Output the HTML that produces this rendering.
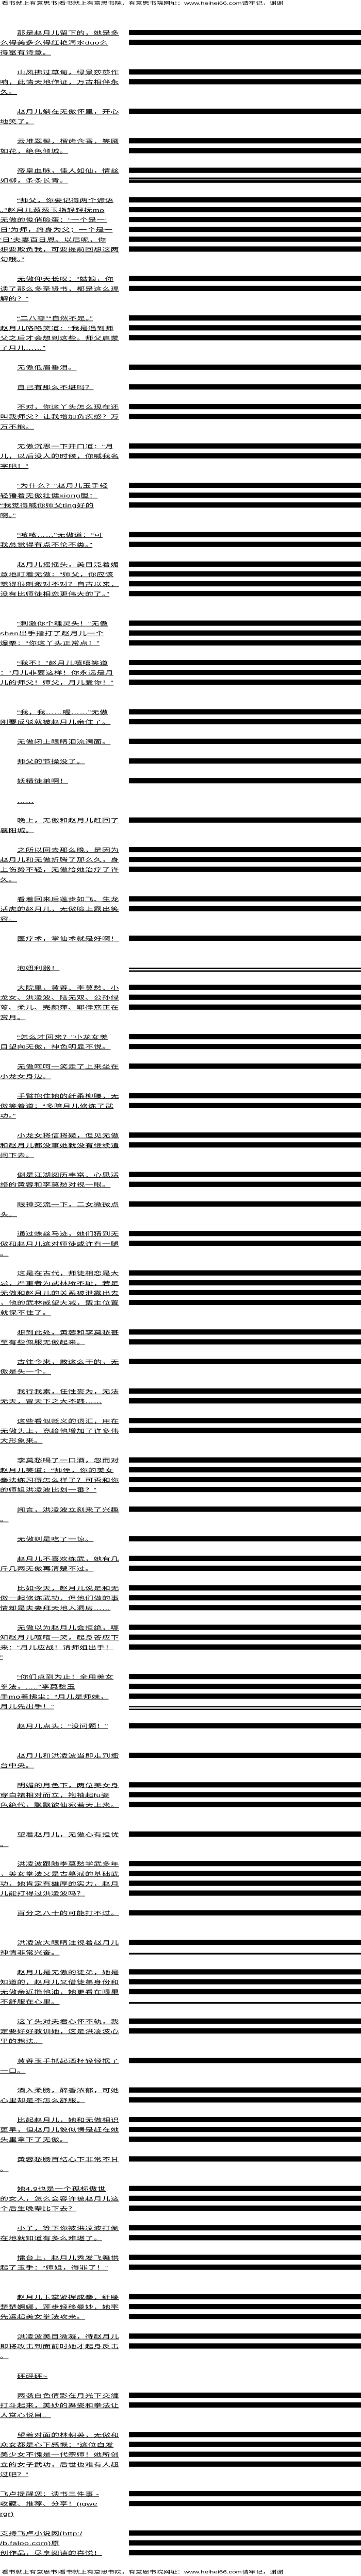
<!DOCTYPE html>
<html><head><meta charset="utf-8">
<style>
html,body{margin:0;padding:0;background:#fff;overflow:hidden}
svg{display:block;width:100vw;height:100vh}
text{font-family:"Liberation Sans","Noto Sans CJK SC",sans-serif;font-size:16px;letter-spacing:0.5px;text-decoration:underline;fill:#000}
text.h{font-size:13.6px;letter-spacing:-0.1px;text-decoration:none}
</style></head><body>
<svg xmlns="http://www.w3.org/2000/svg" viewBox="0 0 700 7850" preserveAspectRatio="none">
<rect x="0" y="0" width="700" height="7850" fill="#fff"/>
<text class="h" x="3" y="14">看书就上有意思书|看书就上有意思书院，有意思书院网址：www.heihei66.com请牢记，谢谢</text>
<text class="h" x="3" y="7842">看书就上有意思书|看书就上有意思书院，有意思书院网址：www.heihei66.com请牢记，谢谢</text>
<g fill="#000">
<rect x="250" y="91" width="450" height="16"/><rect x="250" y="121" width="450" height="16"/>
<rect x="250" y="211" width="450" height="16"/><rect x="250" y="241" width="450" height="16"/>
<rect x="250" y="331" width="450" height="16"/>
<rect x="250" y="421" width="450" height="16"/><rect x="250" y="451" width="450" height="16"/>
<rect x="250" y="511" width="450" height="16"/><rect x="250" y="541" width="450" height="6"/><rect x="250" y="549" width="450" height="8"/>
<rect x="250" y="601" width="450" height="16"/><rect x="250" y="631" width="450" height="16"/><rect x="250" y="661" width="450" height="16"/><rect x="250" y="691" width="450" height="16"/><rect x="250" y="721" width="450" height="16"/><rect x="250" y="751" width="450" height="16"/>
<rect x="250" y="841" width="450" height="16"/><rect x="250" y="871" width="450" height="16"/>
<rect x="250" y="961" width="450" height="16"/><rect x="250" y="991" width="450" height="16"/><rect x="250" y="1021" width="450" height="16"/>
<rect x="250" y="1111" width="450" height="16"/>
<rect x="250" y="1171" width="450" height="16"/>
<rect x="250" y="1231" width="450" height="16"/><rect x="250" y="1261" width="450" height="16"/>
<rect x="250" y="1351" width="450" height="16"/><rect x="250" y="1381" width="450" height="16"/>
<rect x="250" y="1471" width="450" height="16"/><rect x="250" y="1501" width="450" height="16"/><rect x="250" y="1531" width="450" height="16"/>
<rect x="250" y="1621" width="450" height="16"/><rect x="250" y="1651" width="450" height="16"/>
<rect x="250" y="1711" width="450" height="16"/><rect x="250" y="1741" width="450" height="16"/><rect x="250" y="1771" width="450" height="16"/><rect x="250" y="1801" width="450" height="16"/>
<rect x="250" y="1891" width="450" height="16"/><rect x="250" y="1921" width="450" height="16"/><rect x="250" y="1951" width="450" height="16"/>
<rect x="250" y="2011" width="450" height="16"/><rect x="250" y="2041" width="450" height="16"/><rect x="250" y="2071" width="450" height="16"/>
<rect x="250" y="2161" width="450" height="16"/><rect x="250" y="2191" width="450" height="16"/>
<rect x="250" y="2251" width="450" height="16"/>
<rect x="250" y="2311" width="450" height="16"/>
<rect x="250" y="2371" width="450" height="16"/>
<rect x="250" y="2491" width="450" height="16"/>
<rect x="250" y="2581" width="450" height="16"/><rect x="250" y="2611" width="450" height="16"/><rect x="250" y="2641" width="450" height="16"/>
<rect x="250" y="2731" width="450" height="16"/><rect x="250" y="2761" width="450" height="16"/>
<rect x="250" y="2851" width="450" height="16"/>
<rect x="250" y="2949" width="450" height="4"/><rect x="250" y="2957" width="450" height="4"/>
<rect x="250" y="3001" width="450" height="16"/><rect x="250" y="3031" width="450" height="16"/><rect x="250" y="3061" width="450" height="16"/>
<rect x="250" y="3151" width="450" height="16"/><rect x="250" y="3181" width="450" height="16"/>
<rect x="250" y="3241" width="450" height="16"/>
<rect x="250" y="3331" width="450" height="16"/><rect x="250" y="3361" width="450" height="16"/>
<rect x="250" y="3451" width="450" height="16"/><rect x="250" y="3481" width="450" height="16"/>
<rect x="250" y="3571" width="450" height="16"/><rect x="250" y="3601" width="450" height="16"/>
<rect x="250" y="3661" width="450" height="16"/>
<rect x="250" y="3751" width="450" height="16"/><rect x="250" y="3781" width="450" height="16"/>
<rect x="250" y="3871" width="450" height="16"/><rect x="250" y="3901" width="450" height="16"/><rect x="250" y="3931" width="450" height="16"/><rect x="250" y="3961" width="450" height="16"/>
<rect x="250" y="4051" width="450" height="16"/><rect x="250" y="4081" width="450" height="16"/>
<rect x="250" y="4141" width="450" height="16"/>
<rect x="250" y="4231" width="450" height="16"/><rect x="250" y="4261" width="450" height="16"/>
<rect x="250" y="4321" width="450" height="16"/><rect x="250" y="4351" width="450" height="16"/>
<rect x="250" y="4441" width="450" height="16"/><rect x="250" y="4471" width="450" height="16"/><rect x="250" y="4501" width="450" height="16"/><rect x="250" y="4531" width="450" height="16"/>
<rect x="250" y="4591" width="450" height="16"/>
<rect x="250" y="4681" width="450" height="16"/>
<rect x="250" y="4741" width="450" height="16"/><rect x="250" y="4771" width="450" height="16"/>
<rect x="250" y="4831" width="450" height="16"/><rect x="250" y="4861" width="450" height="16"/><rect x="250" y="4891" width="450" height="16"/>
<rect x="250" y="4951" width="450" height="16"/><rect x="250" y="4981" width="450" height="16"/><rect x="250" y="5011" width="450" height="16"/>
<rect x="250" y="5101" width="450" height="16"/><rect x="250" y="5131" width="450" height="16"/><rect x="250" y="5161" width="450" height="16"/>
<rect x="250" y="5199" width="450" height="4"/><rect x="250" y="5207" width="450" height="4"/>
<rect x="250" y="5251" width="450" height="16"/>
<rect x="250" y="5341" width="450" height="16"/>
<rect x="250" y="5431" width="450" height="16"/><rect x="250" y="5461" width="450" height="16"/><rect x="250" y="5491" width="450" height="16"/>
<rect x="250" y="5581" width="450" height="16"/>
<rect x="250" y="5671" width="450" height="16"/><rect x="250" y="5701" width="450" height="16"/><rect x="250" y="5731" width="450" height="16"/><rect x="250" y="5761" width="450" height="16"/>
<rect x="250" y="5821" width="450" height="16"/>
<rect x="250" y="5911" width="450" height="16"/><rect x="250" y="5951" width="450" height="5"/>
<rect x="250" y="6001" width="450" height="16"/><rect x="250" y="6031" width="450" height="16"/><rect x="250" y="6061" width="450" height="16"/><rect x="250" y="6101" width="450" height="5"/>
<rect x="250" y="6151" width="450" height="16"/><rect x="250" y="6181" width="450" height="16"/>
<rect x="250" y="6271" width="450" height="16"/>
<rect x="250" y="6361" width="450" height="16"/><rect x="250" y="6391" width="450" height="16"/>
<rect x="250" y="6451" width="450" height="16"/><rect x="250" y="6481" width="450" height="16"/><rect x="250" y="6511" width="450" height="16"/>
<rect x="250" y="6571" width="450" height="16"/>
<rect x="250" y="6661" width="450" height="16"/><rect x="250" y="6691" width="450" height="16"/><rect x="250" y="6721" width="450" height="16"/>
<rect x="250" y="6781" width="450" height="16"/><rect x="250" y="6811" width="450" height="16"/>
<rect x="250" y="6871" width="450" height="16"/><rect x="250" y="6901" width="450" height="16"/>
<rect x="250" y="6991" width="450" height="16"/><rect x="250" y="7021" width="450" height="16"/><rect x="250" y="7051" width="450" height="16"/>
<rect x="250" y="7111" width="450" height="16"/><rect x="250" y="7141" width="450" height="16"/>
<rect x="250" y="7291" width="450" height="16"/><rect x="250" y="7321" width="450" height="16"/>
<rect x="250" y="7411" width="450" height="16"/><rect x="250" y="7441" width="450" height="16"/><rect x="250" y="7471" width="450" height="16"/><rect x="250" y="7501" width="450" height="16"/>
<rect x="250" y="7591" width="450" height="16"/><rect x="250" y="7621" width="450" height="16"/>
<rect x="250" y="7711" width="450" height="16"/><rect x="250" y="7741" width="450" height="16"/><rect x="250" y="7771" width="450" height="16"/>
</g>
<text x="33" y="106">那是赵月儿留下的，她是多</text>
<text x="0" y="136">么得美多么得红艳滴水duo么</text>
<text x="0" y="166">得富有诗意。</text>
<text x="33" y="226">山风拂过草甸，绿景莎莎作</text>
<text x="0" y="256">响，此情天地作证，万古相伴永</text>
<text x="0" y="286">久。</text>
<text x="33" y="346">赵月儿躺在无傲怀里，开心</text>
<text x="0" y="376">地笑了。</text>
<text x="33" y="436">云堆翠髻，榴齿含香，笑靥</text>
<text x="0" y="466">如花，绝色倾城。</text>
<text x="33" y="526">帝皇血脉，佳人如仙，情丝</text>
<text x="0" y="556">如柳，条条长青。</text>
<text x="33" y="616">“师父，你要记得两个谚语</text>
<text x="0" y="646">。”赵月儿葱葱玉指轻轻抚mo</text>
<text x="0" y="676">无傲的俊俏脸蛋：“一个是一‘</text>
<text x="0" y="706">日’为师，终身为父；一个是一</text>
<text x="0" y="736">‘日’夫妻百日恩。以后呢，你</text>
<text x="0" y="766">想要欺负我，可要提前回想这两</text>
<text x="0" y="796">句哦。”</text>
<text x="33" y="856">无傲仰天长叹：“姑娘，你</text>
<text x="0" y="886">读了那么多圣贤书，都是这么理</text>
<text x="0" y="916">解的？”</text>
<text x="33" y="976">“二八零”“自然不是。”</text>
<text x="0" y="1006">赵月儿咯咯笑道：“我是遇到师</text>
<text x="0" y="1036">父之后才会想到这些。师父启蒙</text>
<text x="0" y="1066">了月儿……”</text>
<text x="33" y="1126">无傲低眉垂泪。</text>
<text x="33" y="1186">自己有那么不堪吗？</text>
<text x="33" y="1246">不对，你这丫头怎么现在还</text>
<text x="0" y="1276">叫我师父？让我增加负疚感？万</text>
<text x="0" y="1306">万不能。</text>
<text x="33" y="1366">无傲沉思一下开口道：“月</text>
<text x="0" y="1396">儿，以后没人的时候，你喊我名</text>
<text x="0" y="1426">字吧！”</text>
<text x="33" y="1486">“为什么？”赵月儿玉手轻</text>
<text x="0" y="1516">轻锤着无傲壮健xiong膛：</text>
<text x="0" y="1546">“我觉得喊你师父ting好的</text>
<text x="0" y="1576">啊。”</text>
<text x="33" y="1636">“咳咳……”无傲道：“可</text>
<text x="0" y="1666">我总觉得有点不伦不类。”</text>
<text x="33" y="1726">赵月儿摇摇头，美目泛着媚</text>
<text x="0" y="1756">意地盯着无傲：“师父，你应该</text>
<text x="0" y="1786">觉得很刺激对不对？自古以来，</text>
<text x="0" y="1816">没有比师徒相恋更伟大的了。”</text>
<text x="33" y="1906">“刺激你个魂灵头！”无傲</text>
<text x="0" y="1936">shen出手指打了赵月儿一个</text>
<text x="0" y="1966">爆栗：“你这丫头正常点！”</text>
<text x="33" y="2026">“我不！”赵月儿嘻嘻笑道</text>
<text x="0" y="2056">：“月儿非要这样！你永远是月</text>
<text x="0" y="2086">儿的师父！师父，月儿爱你！”</text>
<text x="33" y="2176">“我，我……喔……”无傲</text>
<text x="0" y="2206">刚要反驳就被赵月儿亲住了。</text>
<text x="33" y="2266">无傲闭上眼睛泪流满面。</text>
<text x="33" y="2326">师父的节操没了。</text>
<text x="33" y="2386">妖精徒弟啊！</text>
<text x="33" y="2446">……</text>
<text x="33" y="2506">晚上，无傲和赵月儿赶回了</text>
<text x="0" y="2536">襄阳城。</text>
<text x="33" y="2596">之所以回去那么晚，是因为</text>
<text x="0" y="2626">赵月儿和无傲折腾了那么久，身</text>
<text x="0" y="2656">上伤势不轻，无傲给她治疗了许</text>
<text x="0" y="2686">久。</text>
<text x="33" y="2746">看着回来后莲步如飞、生龙</text>
<text x="0" y="2776">活虎的赵月儿，无傲脸上露出笑</text>
<text x="0" y="2806">容。</text>
<text x="33" y="2866">医疗术，掌仙术就是好啊！</text>
<text x="33" y="2956">泡妞利器！</text>
<text x="33" y="3016">大院里，黄蓉、李莫愁、小</text>
<text x="0" y="3046">龙女、洪凌波、陆无双、公孙绿</text>
<text x="0" y="3076">萼、柔儿、完颜萍、耶律燕正在</text>
<text x="0" y="3106">赏月。</text>
<text x="33" y="3166">“怎么才回来？”小龙女美</text>
<text x="0" y="3196">目望向无傲，神色明显不悦。</text>
<text x="33" y="3256">无傲呵呵一笑走了上来坐在</text>
<text x="0" y="3286">小龙女身边。</text>
<text x="33" y="3346">手臂抱住她的纤柔柳腰，无</text>
<text x="0" y="3376">傲笑着道：“多陪月儿修炼了武</text>
<text x="0" y="3406">功。”</text>
<text x="33" y="3466">小龙女将信将疑，但见无傲</text>
<text x="0" y="3496">和赵月儿都没事她就没有继续追</text>
<text x="0" y="3526">问下去。</text>
<text x="33" y="3586">倒是江湖阅历丰富、心思活</text>
<text x="0" y="3616">络的黄蓉和李莫愁对视一眼。</text>
<text x="33" y="3676">眼神交流一下，二女微微点</text>
<text x="0" y="3706">头。</text>
<text x="33" y="3766">通过蛛丝马迹，她们猜到无</text>
<text x="0" y="3796">傲和赵月儿这对师徒或许有一腿</text>
<text x="0" y="3826">。</text>
<text x="33" y="3886">这是在古代，师徒相恋是大</text>
<text x="0" y="3916">忌，严重者为武林所不耻，若是</text>
<text x="0" y="3946">无傲和赵月儿的关系被泄露出去</text>
<text x="0" y="3976">，他的武林威望大减，盟主位置</text>
<text x="0" y="4006">就保不住了。</text>
<text x="33" y="4066">想到此处，黄蓉和李莫愁甚</text>
<text x="0" y="4096">至有些佩服无傲起来。</text>
<text x="33" y="4156">古往今来，敢这么干的，无</text>
<text x="0" y="4186">傲是头一个。</text>
<text x="33" y="4246">我行我素，任性妄为，无法</text>
<text x="0" y="4276">无天，冒天下之大不韪……</text>
<text x="33" y="4336">这些看似贬义的词汇，用在</text>
<text x="0" y="4366">无傲头上，竟给他增加了许多伟</text>
<text x="0" y="4396">大形象来。</text>
<text x="33" y="4456">李莫愁喝了一口酒，忽而对</text>
<text x="0" y="4486">赵月儿笑道：“师侄，你的美女</text>
<text x="0" y="4516">拳法练习得怎么样了？可否和你</text>
<text x="0" y="4546">的师姐洪凌波比划一番？”</text>
<text x="33" y="4606">闻言，洪凌波立刻来了兴趣</text>
<text x="0" y="4636">。</text>
<text x="33" y="4696">无傲则是吃了一惊。</text>
<text x="33" y="4756">赵月儿不喜欢练武，她有几</text>
<text x="0" y="4786">斤几两无傲再清楚不过。</text>
<text x="33" y="4846">比如今天，赵月儿说是和无</text>
<text x="0" y="4876">傲一起修炼武功，但他们做的事</text>
<text x="0" y="4906">情却是夫妻拜天地入洞房……</text>
<text x="33" y="4966">无傲以为赵月儿会拒绝，哪</text>
<text x="0" y="4996">知赵月儿嘻嘻一笑，起身答应下</text>
<text x="0" y="5026">来：“月儿应战！请师姐出手！</text>
<text x="0" y="5056">”</text>
<text x="33" y="5116">“你们点到为止！全用美女</text>
<text x="0" y="5146">拳法，.....”李莫愁玉</text>
<text x="0" y="5176">手mo着拂尘：“月儿是师妹，</text>
<text x="0" y="5206">月儿先出手！”</text>
<text x="33" y="5266">赵月儿点头：“没问题！”</text>
<text x="33" y="5356">赵月儿和洪凌波当即走到擂</text>
<text x="0" y="5386">台中央。</text>
<text x="33" y="5446">明媚的月色下，两位美女身</text>
<text x="0" y="5476">穿白裙相对而立，袍袖起fu姿</text>
<text x="0" y="5506">色绝代，飘飘欲仙宛若天上来。</text>
<text x="33" y="5596">望着赵月儿，无傲心有担忧</text>
<text x="0" y="5626">。</text>
<text x="33" y="5686">洪凌波跟随李莫愁学武多年</text>
<text x="0" y="5716">，美女拳法又是古墓派的基础武</text>
<text x="0" y="5746">功，她肯定有雄厚的实力，赵月</text>
<text x="0" y="5776">儿能打得过洪凌波吗？</text>
<text x="33" y="5836">百分之八十的可能打不过。</text>
<text x="33" y="5926">洪凌波大眼睛注视着赵月儿</text>
<text x="0" y="5956">神情非常兴奋。</text>
<text x="33" y="6016">赵月儿是无傲的徒弟，她是</text>
<text x="0" y="6046">知道的，赵月儿又借徒弟身份和</text>
<text x="0" y="6076">无傲亲近揩他油，她更看在眼里</text>
<text x="0" y="6106">不舒服在心里。</text>
<text x="33" y="6166">这丫头对夫君心怀不轨，我</text>
<text x="0" y="6196">定要好好教训她，这是洪凌波心</text>
<text x="0" y="6226">里的想法。</text>
<text x="33" y="6286">黄蓉玉手抓起酒杯轻轻抿了</text>
<text x="0" y="6316">一口。</text>
<text x="33" y="6376">酒入柔肠，醉香浓郁，可她</text>
<text x="0" y="6406">心里却是不怎么舒服。</text>
<text x="33" y="6466">比起赵月儿，她和无傲相识</text>
<text x="0" y="6496">更早，但赵月儿貌似愣是赶在她</text>
<text x="0" y="6526">头里拿下了无傲。</text>
<text x="33" y="6586">黄蓉愁肠百结心下非常不甘</text>
<text x="0" y="6616">。</text>
<text x="33" y="6676">她4.9也是一个孤标傲世</text>
<text x="0" y="6706">的女人，怎么会容许被赵月儿这</text>
<text x="0" y="6736">个后生晚辈比下去？</text>
<text x="33" y="6796">小子，等下你被洪凌波打倒</text>
<text x="0" y="6826">在地就知道有多么难堪了。</text>
<text x="33" y="6886">擂台上，赵月儿秀发飞舞拱</text>
<text x="0" y="6916">起了玉手：“师姐，得罪了！”</text>
<text x="33" y="7006">赵月儿玉掌紧握成拳，纤腰</text>
<text x="0" y="7036">楚楚婀娜，莲步轻移曼妙，她率</text>
<text x="0" y="7066">先运起美女拳法攻来。</text>
<text x="33" y="7126">洪凌波美目微凝，待赵月儿</text>
<text x="0" y="7156">即将攻击到面前时她才起身反击</text>
<text x="0" y="7186">。</text>
<text x="33" y="7246">砰砰砰~</text>
<text x="33" y="7306">两袭白色倩影在月光下交缠</text>
<text x="0" y="7336">打斗起来，美妙的舞姿和拳法让</text>
<text x="0" y="7366">人赏心悦目。</text>
<text x="33" y="7426">望着对面的林朝英，无傲和</text>
<text x="0" y="7456">众女都是心下感慨：“这位白发</text>
<text x="0" y="7486">美少女不愧是一代宗师！她所创</text>
<text x="0" y="7516">立的女子武功，后世也难有人超</text>
<text x="0" y="7546">过吧？”</text>
<text x="0" y="7606">飞卢提醒您：读书三件事 -</text>
<text x="0" y="7636">收藏、推荐、分享！(igwe</text>
<text x="0" y="7666">rgr)</text>
<text x="0" y="7726">支持飞卢小说网(http:/</text>
<text x="0" y="7756">/b.faloo.com)原</text>
<text x="0" y="7786">创作品，尽享阅读的喜悦！</text>
</svg>
</body></html>
